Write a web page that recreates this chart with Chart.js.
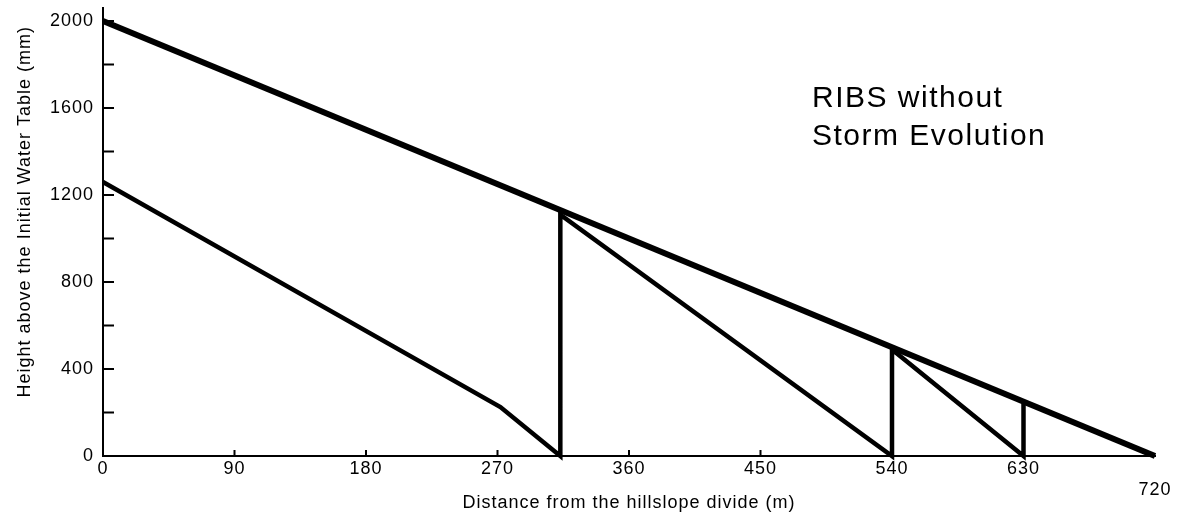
<!DOCTYPE html>
<html>
<head>
<meta charset="utf-8">
<script src="https://cdn.jsdelivr.net/npm/chart.js@4/dist/chart.umd.min.js"></script>
<style>
  body { margin: 0; background: #fff; }
  #wrap { position: relative; width: 1181px; height: 518px; }
  #note {
    position: absolute; left: 812px; top: 78px;
    font-family: "Liberation Sans", Arial, sans-serif;
    font-size: 30px; line-height: 38px; letter-spacing: 1.5px; color: #000;
  }
</style>
</head>
<body>
<div id="wrap">
  <canvas id="chart" width="1181" height="518"></canvas>
  <div id="note">RIBS without<br>Storm Evolution</div>
</div>
<script>
// distance from divide (m) / height above water table (mm)
const surfaceX = [0, 720];
const surfaceY = [2000, 0];

const frontX = [0, 272, 313, 313, 540, 540, 630, 630];
const frontY = [1260, 225, 0, 1110, 0, 490, 0, 240];

const xTicks = [0, 90, 180, 270, 360, 450, 540, 630, 720];
const yTicks = [0, 200, 400, 600, 800, 1000, 1200, 1400, 1600, 1800, 2000];
const yLabels = [0, 400, 800, 1200, 1600, 2000];

const toPoints = (xs, ys) => xs.map((x, i) => ({ x: x, y: ys[i] }));

const axisFont = { family: "'Liberation Sans', Arial, sans-serif", size: 18 };

const innerTicks = {
    id: "innerTicks",
    beforeDraw(chart) {
        chart.ctx.letterSpacing = "1px";
    },
    afterDraw(chart) {
        const ctx = chart.ctx;
        const xs = chart.scales.x, ys = chart.scales.y;
        ctx.save();
        ctx.strokeStyle = "#000";
        ctx.lineWidth = 2;
        ctx.beginPath();
        yTicks.forEach(v => {
            const py = ys.getPixelForValue(v);
            ctx.moveTo(xs.left, py);
            ctx.lineTo(xs.left + 11, py);
        });
        xTicks.slice(1, -1).forEach(v => {
            const px = xs.getPixelForValue(v);
            ctx.moveTo(px, ys.bottom);
            ctx.lineTo(px, ys.bottom - 6);
        });
        ctx.stroke();
        ctx.restore();
    }
};

new Chart(document.getElementById("chart"), {
    type: "scatter",
    data: {
        datasets: [{
            label: "Surface",
            data: toPoints(surfaceX, surfaceY),
            showLine: true,
            borderColor: "#000",
            borderWidth: 6,
            pointRadius: 0,
            clip: false
        },
        {
            label: "Front",
            data: toPoints(frontX, frontY),
            showLine: true,
            borderColor: "#000",
            borderWidth: 4.5,
            borderJoinStyle: "miter",
            pointRadius: 0,
            clip: false
        }]
    },
    options: {
        responsive: false,
        animation: false,
        layout: { padding: { top: 8, right: 26, left: 0, bottom: 0 } },
        plugins: {
            legend: { display: false },
            tooltip: { enabled: false }
        },
        scales: {
            x: {
                type: "linear",
                min: 0,
                max: 720,
                afterBuildTicks: s => { s.ticks = xTicks.map(v => ({ value: v })); },
                afterFit: s => { s.height = 62; s.paddingLeft = 0; s.paddingRight = 0; },
                grid: { display: false, drawTicks: false },
                border: { color: "#000", width: 2 },
                ticks: {
                    padding: 2,
                    color: "#000",
                    font: axisFont,
                    maxRotation: 0,
                    autoSkip: false,
                    callback: v => v === 720 ? ["", "720"] : String(v)
                },
                title: {
                    display: true,
                    text: "Distance from the hillslope divide (m)",
                    color: "#000",
                    font: axisFont,
                    padding: { top: 0, bottom: 4 }
                }
            },
            y: {
                min: 0,
                max: 2060,
                afterBuildTicks: s => { s.ticks = yTicks.map(v => ({ value: v })); },
                afterFit: s => { s.width = 103; s.paddingTop = 0; s.paddingBottom = 0; },
                grid: { display: false, drawTicks: false },
                border: { color: "#000", width: 2 },
                ticks: {
                    padding: 9,
                    color: "#000",
                    font: axisFont,
                    autoSkip: false,
                    callback: v => yLabels.includes(v) ? String(v) : ""
                },
                title: {
                    display: true,
                    text: "Height above the Initial Water Table (mm)   ",
                    align: "end",
                    color: "#000",
                    font: axisFont,
                    padding: { top: 14, bottom: 0 }
                }
            }
        }
    },
    plugins: [innerTicks]
});
</script>
</body>
</html>
